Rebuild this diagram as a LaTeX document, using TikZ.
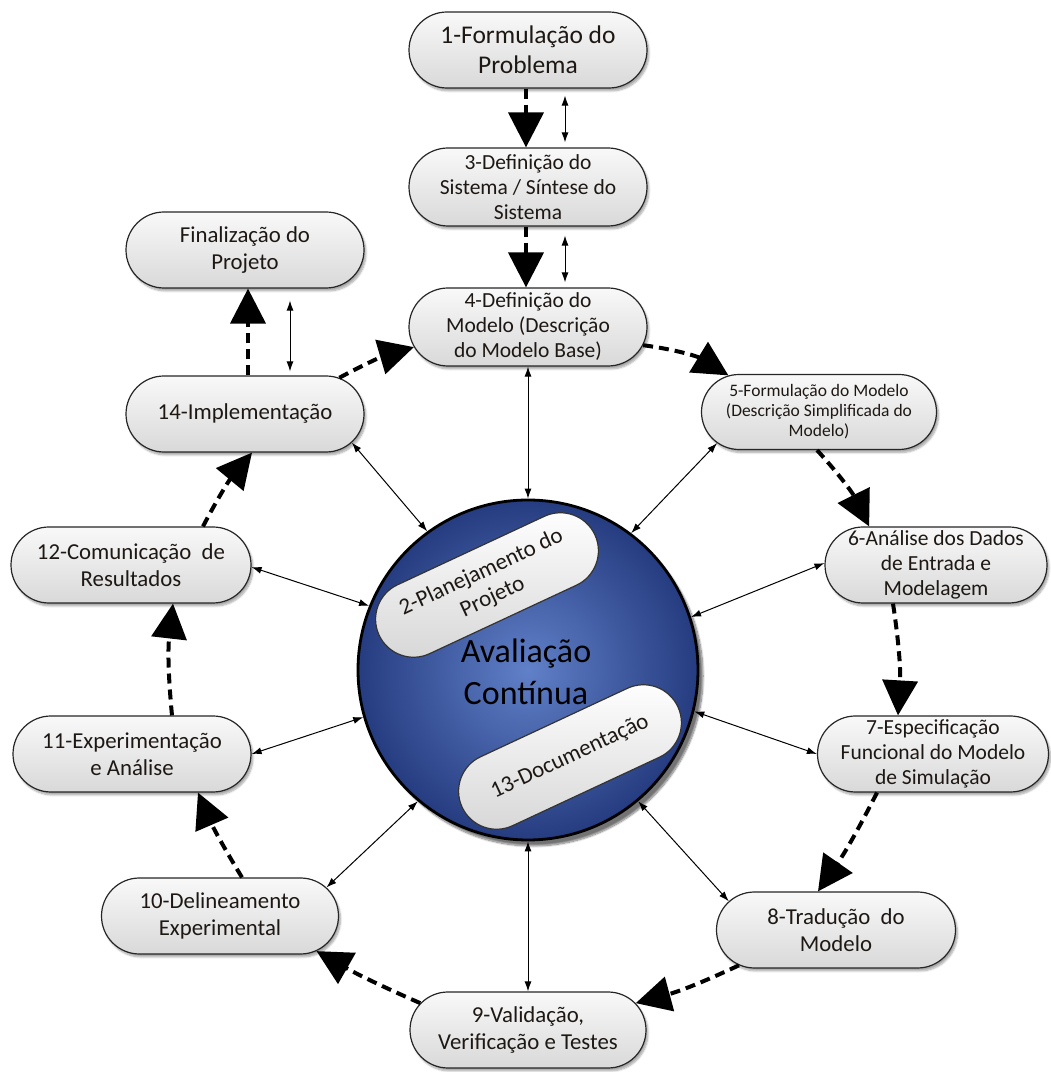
\documentclass[tikz,border=0pt]{standalone}
\usepackage{fontspec}
\setmainfont{Carlito}
\usetikzlibrary{shapes.misc,arrows.meta,shadows,shadows.blur,calc}
\definecolor{blueIn}{RGB}{96,128,200}
\definecolor{blueOut}{RGB}{38,60,128}
\definecolor{txt}{RGB}{30,24,20}
\begin{document}
\begin{tikzpicture}[x=1pt,y=1pt,
  box/.style={rounded rectangle, draw=black!85, line width=1.2pt,
    top color=gray!5, bottom color=gray!30,
    minimum width=240pt, minimum height=76pt, inner sep=1pt,
    align=center, text=txt, font=\fontsize{22.8}{27}\selectfont,
    blur shadow={shadow xshift=2pt, shadow yshift=-3pt, shadow blur steps=6, shadow opacity=35}},
  box3/.style={box, font=\fontsize{21.5}{25}\selectfont},
  boxbig/.style={box, font=\fontsize{25.5}{30}\selectfont},
  boxsmall/.style={box, font=\fontsize{17.5}{20}\selectfont},
  pill/.style={rounded rectangle, draw=black!80, line width=1.2pt,
    top color=white, bottom color=gray!32,
    minimum width=240pt, minimum height=76pt, inner sep=1pt,
    align=center, text=txt, font=\fontsize{23}{27}\selectfont, rotate=25},
  flow/.style={line width=4pt, dash pattern=on 10pt off 6pt,
    -{Triangle[length=35pt,width=35pt]}},
  link/.style={line width=1pt, {Latex[length=10pt,width=7pt]}-{Latex[length=10pt,width=7pt]}}
]
\useasboundingbox (0,0) rectangle (1051,1072);

% central circle
\node[circle, draw=black, line width=2.8pt, minimum size=340pt,
  inner color=blueIn, outer color=blueOut,
  blur shadow={shadow xshift=5pt, shadow yshift=-6pt, shadow blur steps=10, shadow opacity=55}] (c) at (528,402) {};
\node[pill] (p2) at (487,487) {2-Planejamento do\\Projeto};
\node[pill] (p13) at (570,315) {13-Documentação};
\node[align=center, text=black, font=\fontsize{34}{42}\selectfont] (aval) at (526,400) {Avaliação\\Contínua};

% process nodes
\node[boxbig] (n1) at (528,1022) {1-Formulação do\\Problema};
\node[box3, minimum height=78pt] (n3) at (528,885) {3-Definição do\\Sistema / Síntese do\\Sistema};
\node[box3, minimum height=78pt] (n4) at (528,745) {4-Definição do\\Modelo (Descrição\\do Modelo Base)};
\node[box] (fin) at (245,822) {Finalização do\\Projeto};
\node[box] (n14) at (245,658) {14-Implementação};
\node[boxsmall, minimum width=237pt, minimum height=75pt] (n5) at (819,660) {5-Formulação do Modelo\\(Descrição Simplificada do\\Modelo)};
\node[box3, minimum width=224pt] (n6) at (936,507) {6-Análise dos Dados\\de Entrada e\\Modelagem};
\node[box3, minimum width=233pt] (n7) at (933,318) {7-Especificação\\Funcional do Modelo\\de Simulação};
\node[box, minimum width=241pt] (n8) at (836,142) {8-Tradução\ \ do\\Modelo};
\node[box, minimum width=238pt] (n9) at (528,42) {9-Validação,\\Verificação e Testes};
\node[box, minimum width=239pt] (n10) at (220,156) {10-Delineamento\\Experimental};
\node[box] (n11) at (132,318) {11-Experimentação\\e Análise};
\node[box, minimum width=242pt] (n12) at (131,507) {12-Comunicação\ \ de\\Resultados};

% main flow (dashed)
\draw[flow] ([xshift=-2pt]n1.south) -- ([xshift=-2pt]n3.north);
\draw[flow] ([xshift=-2pt]n3.south) -- ([xshift=-2pt]n4.north);
\draw[flow] (n4.-9) to[bend left=12] (n5.158);
\draw[flow] ([xshift=-2pt]n5.south) to[bend left=8] (n6.150);
\draw[flow] ([xshift=-43pt]n6.south) to[bend left=6] ([xshift=-35pt]n7.north);
\draw[flow] ([xshift=-56pt]n7.south) to[bend left=4] ([xshift=-18pt]n8.north);
\draw[flow] (n8.200) to[bend left=5] (n9.14);
\draw[flow] (n9.166) to[bend left=3] (n10.-20);
\draw[flow] ([xshift=22pt]n10.north) to[bend left=4] ([xshift=66pt]n11.south);
\draw[flow] ([xshift=40pt]n11.north) to[bend left=6] ([xshift=42pt]n12.south);
\draw[flow] ([xshift=72pt]n12.north) to[bend left=6] ([xshift=7pt]n14.south);
\draw[flow] ([xshift=3pt]n14.north) -- ([xshift=3pt]fin.south);
\draw[flow] (n14.21) to[bend left=6] (n4.190);

% small two-way links
\draw[link, shorten <=7pt, shorten >=5pt] ([xshift=37pt]n1.south) -- ([xshift=37pt]n3.north);
\draw[link, shorten <=9pt, shorten >=5pt] ([xshift=37pt]n3.south) -- ([xshift=37pt]n4.north);
\draw[link, shorten <=12pt, shorten >=4pt] ([xshift=45pt]fin.south) -- ([xshift=45pt]n14.north);

% links with the evaluation circle
\draw[link] (n4.south) -- (c.north);
\draw[link] (c.south) -- (n9.north);
\draw[link] (n14.-15) -- (c.126);
\draw[link] (n5.197) -- (c.53);
\draw[link] (n6.179) -- (c.18);
\draw[link] (n7.180) -- (c.-14);
\draw[link] (n8.165) -- (c.-50);
\draw[link] (n10.15) -- (c.230);
\draw[link] (n11.0) -- (c.196);
\draw[link] (n12.-1) -- (c.158);
\end{tikzpicture}
\end{document}
